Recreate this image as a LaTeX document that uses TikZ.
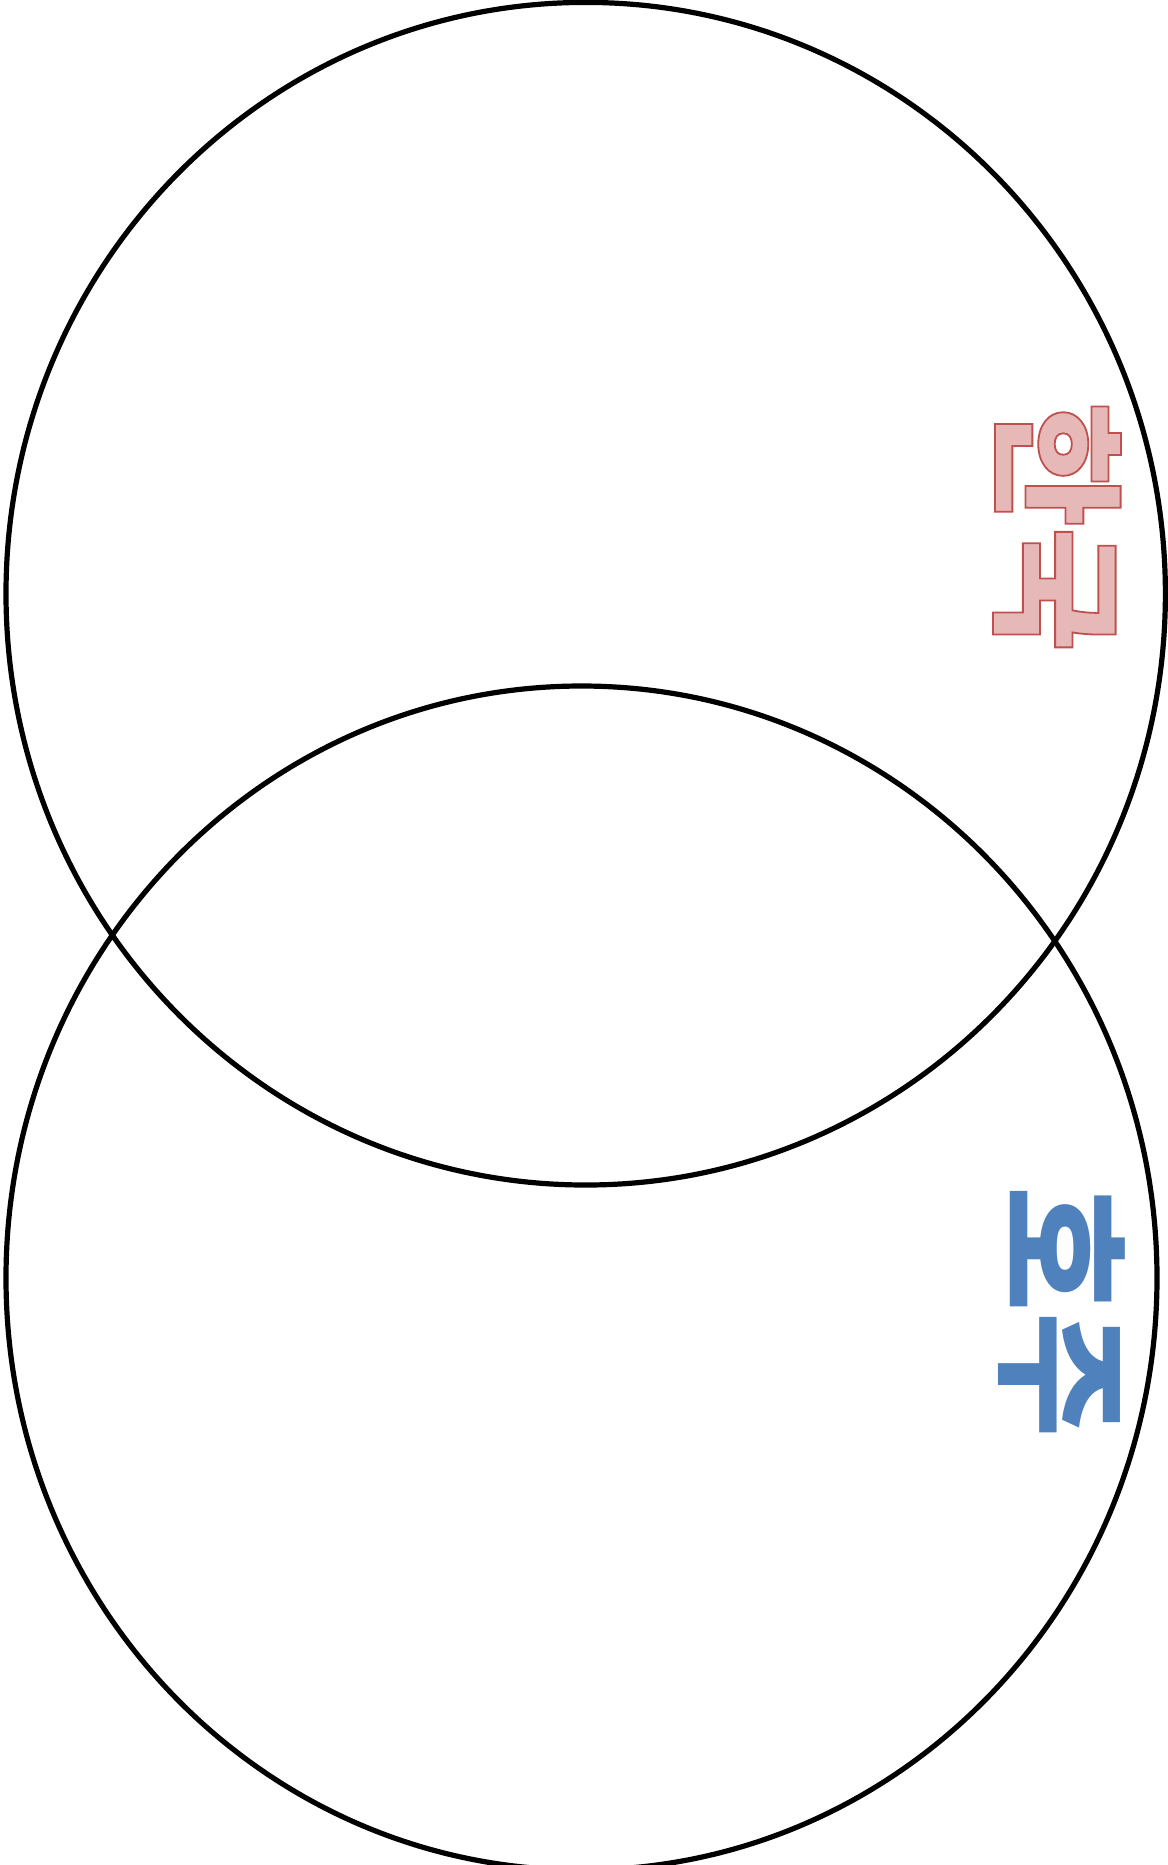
\documentclass[tikz,border=0pt]{standalone}
\usepackage{fontspec}
\newfontfamily\hangul{Noto Sans CJK KR}
\definecolor{koreafill}{HTML}{E6B9B8}
\definecolor{ausblue}{HTML}{4F81BD}
% fill + red edge for the outlined label
\newcommand\edgedtext[1]{\special{pdf:literal direct 2 Tr 0.9 w 0.753 0.314 0.302 RG}#1\special{pdf:literal direct 0 Tr}}

\begin{document}
\begin{tikzpicture}[
  x=0.5pt, y=-0.5pt,
  venn/.style={draw=black, line width=2.6pt},
  country/.style={rotate=-90, inner sep=0pt, font=\hangul\bfseries\fontsize{68}{68}\selectfont},
]
\useasboundingbox (0,0) rectangle (1168,1865);
% the two sets
\draw[venn] (585.7,593.7) ellipse [x radius=579.7, y radius=591.3];
\draw[venn] (581.5,1278) ellipse [x radius=575.5, y radius=592];
% labels
\node[country, text=koreafill] (korea) at (1057,527) {\edgedtext{한국}};
\node[country, text=ausblue] (australia) at (1062,1312) {호주};
\end{tikzpicture}
\end{document}
